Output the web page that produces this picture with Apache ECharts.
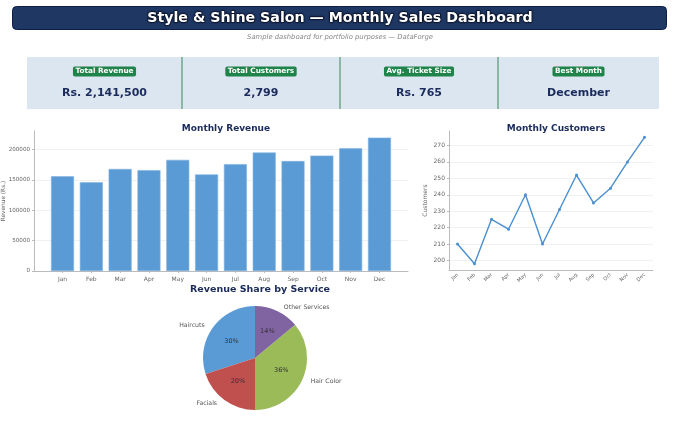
<!DOCTYPE html>
<html><head><meta charset="utf-8">
<script src="https://cdn.jsdelivr.net/npm/echarts@6/dist/echarts.min.js"></script>
<style>html,body{margin:0;padding:0;background:#fff}#c{width:680px;height:437px}</style>
</head><body><div id="c"></div>
<script>
const months = ['Jan','Feb','Mar','Apr','May','Jun','Jul','Aug','Sep','Oct','Nov','Dec'];
const revenue = [156000,146000,168000,166000,183000,159000,176000,195000,181000,190000,202000,219500];
const customers = [210,198,225,219,240,210,231,252,235,244,260,275];
const services = ['Haircuts','Facials','Hair Color','Other Services'];
const shares = [30,20,36,14];
const revenueTicks = [0,50000,100000,150000,200000];
const customerTicks = [200,210,220,230,240,250,260,270];
const kpiLabels = ['Total Revenue','Total Customers','Avg. Ticket Size','Best Month'];
const kpiValues = ['Rs. 2,141,500','2,799','Rs. 765','December'];

const F = 'DejaVu Sans';
const navy = '#1a2b5c';
const blue = '#5b9bd5';
const pieColors = ['#5b9bd5','#c0504d','#9bbb59','#8064a2'];

const chart = echarts.init(document.getElementById('c'), null, {renderer:'canvas'});

const graphics = [
  {type:'rect', shape:{x:12.5,y:6.5,width:654,height:23,r:4}, style:{fill:'#1f3763',stroke:'#0e1c4a',lineWidth:1}},
  {type:'text', x:340, y:18, style:{text:'Style & Shine Salon — Monthly Sales Dashboard', fill:'#fff', font:'bold 14.2px "'+F+'"', align:'center', verticalAlign:'middle', stroke:'#0a1433', lineWidth:1.2, textShadowColor:'rgba(0,0,0,0.6)', textShadowBlur:2}},
  {type:'text', x:340, y:37, style:{text:'Sample dashboard for portfolio purposes — DataForge', fill:'#888', font:'italic 6.8px "'+F+'"', align:'center', verticalAlign:'middle'}},
  {type:'rect', shape:{x:27,y:57,width:632,height:52}, style:{fill:'#dce6f0'}}
];
const cardX = [27,182,340,498,659];
for (let i=0;i<4;i++){
  const cx = (cardX[i]+cardX[i+1])/2;
  if (i>0) graphics.push({type:'line', shape:{x1:cardX[i],y1:57,x2:cardX[i],y2:109}, style:{stroke:'#3a8a55',lineWidth:1}});
  graphics.push({type:'text', x:cx, y:71.5, style:{text:kpiLabels[i], fill:'#fff', font:'bold 7.3px "'+F+'"', align:'center', verticalAlign:'middle', backgroundColor:'#1e8449', padding:[1.5,2.5,1.5,2.5], borderRadius:2}});
  graphics.push({type:'text', x:cx, y:93, style:{text:kpiValues[i], fill:navy, font:'bold 11px "'+F+'"', align:'center', verticalAlign:'middle'}});
}

const axisLineStyle = {lineStyle:{color:'#bbbbbb',width:1}};
const labelStyle = {color:'#666', fontSize:6, fontFamily:F};

const option = {
  animation:false,
  backgroundColor:'#fff',
  title:[
    {text:'Monthly Revenue', left:221, top:119, textAlign:'center', textStyle:{fontFamily:F,fontSize:9,fontWeight:'bold',color:navy}},
    {text:'Monthly Customers', left:551, top:119, textAlign:'center', textStyle:{fontFamily:F,fontSize:9,fontWeight:'bold',color:navy}},
    {text:'Revenue Share by Service', left:255, top:280, textAlign:'center', textStyle:{fontFamily:F,fontSize:9.5,fontWeight:'bold',color:navy}}
  ],
  graphic: graphics,
  grid:[
    {left:34, right:272, top:131, bottom:166, outerBoundsMode:'none', containLabel:false},
    {left:449, right:27, top:131, bottom:167, outerBoundsMode:'none', containLabel:false}
  ],
  xAxis:[
    {type:'value', gridIndex:0, min:-0.99, max:11.99,
     axisLine:Object.assign({onZero:false}, axisLineStyle), splitLine:{show:false},
     axisTick:{show:true, customValues:months.map((m,i)=>i), length:2, lineStyle:{color:'#bbb'}},
     axisLabel:Object.assign({}, labelStyle, {customValues:months.map((m,i)=>i), formatter:v=>months[Math.round(v)], margin:5})},
    {type:'category', gridIndex:1, data:months, boundaryGap:true,
     axisLine:axisLineStyle, axisTick:{alignWithLabel:true,length:2,lineStyle:{color:'#bbb'}},
     axisLabel:Object.assign({}, labelStyle, {fontSize:5, rotate:45, interval:0, margin:4})}
  ],
  yAxis:[
    {type:'value', gridIndex:0, min:0, max:Math.max(...revenue)*1.05,
     name:'Revenue (Rs.)', nameLocation:'middle', nameGap:28, nameMoveOverlap:false, nameTextStyle:{color:'#666',fontSize:5.8,fontFamily:F},
     axisLine:{show:true,onZero:false,lineStyle:{color:'#bbbbbb'}},
     axisTick:{show:true, customValues:revenueTicks, length:2, lineStyle:{color:'#bbb'}},
     axisLabel:Object.assign({}, labelStyle, {fontSize:5.6, customValues:revenueTicks, margin:4, formatter:v=>String(v)}),
     splitLine:{show:true, lineStyle:{color:'#eeeeee',width:0.8}}},
    {type:'value', gridIndex:1, min:Math.min(...customers)-3.85, max:Math.max(...customers)+3.85,
     name:'Customers', nameLocation:'middle', nameGap:21, nameMoveOverlap:false, nameTextStyle:{color:'#666',fontSize:6,fontFamily:F},
     axisLine:{show:true,onZero:false,lineStyle:{color:'#bbbbbb'}},
     axisTick:{show:true, customValues:customerTicks, length:2, lineStyle:{color:'#bbb'}},
     axisLabel:Object.assign({}, labelStyle, {customValues:customerTicks, margin:4}),
     splitLine:{show:true, lineStyle:{color:'#eeeeee',width:0.8}}}
  ],
  series:[
    {type:'bar', xAxisIndex:0, yAxisIndex:0, barWidth:23,
     data:revenue.map((v,i)=>[i,v]),
     itemStyle:{color:blue, borderColor:'#7fb2e0', borderWidth:0.6}},
    {type:'line', xAxisIndex:1, yAxisIndex:1, data:customers,
     symbol:'circle', symbolSize:3, lineStyle:{color:'#4a8fd0',width:1.4}, itemStyle:{color:'#4a8fd0'}},
    {type:'pie', center:[255,358], radius:52, startAngle:90, clockwise:false,
     data:services.map((s,i)=>({name:s,value:shares[i],itemStyle:{color:pieColors[i]}})),
     label:{show:true, position:'outside', formatter:'{b}', color:'#555', fontSize:6.2, fontFamily:F},
     labelLine:{show:false, length:4, length2:0},
     emphasis:{disabled:true}},
    {type:'pie', center:[255,358], radius:52, startAngle:90, clockwise:false, silent:true,
     data:services.map((s,i)=>({name:s,value:shares[i],itemStyle:{color:'transparent'}})),
     label:{show:true, position:'inside', formatter:'{d}%', color:'#333', fontSize:6.5, fontFamily:F},
     labelLine:{show:false}}
  ]
};
chart.setOption(option);
</script></body></html>
